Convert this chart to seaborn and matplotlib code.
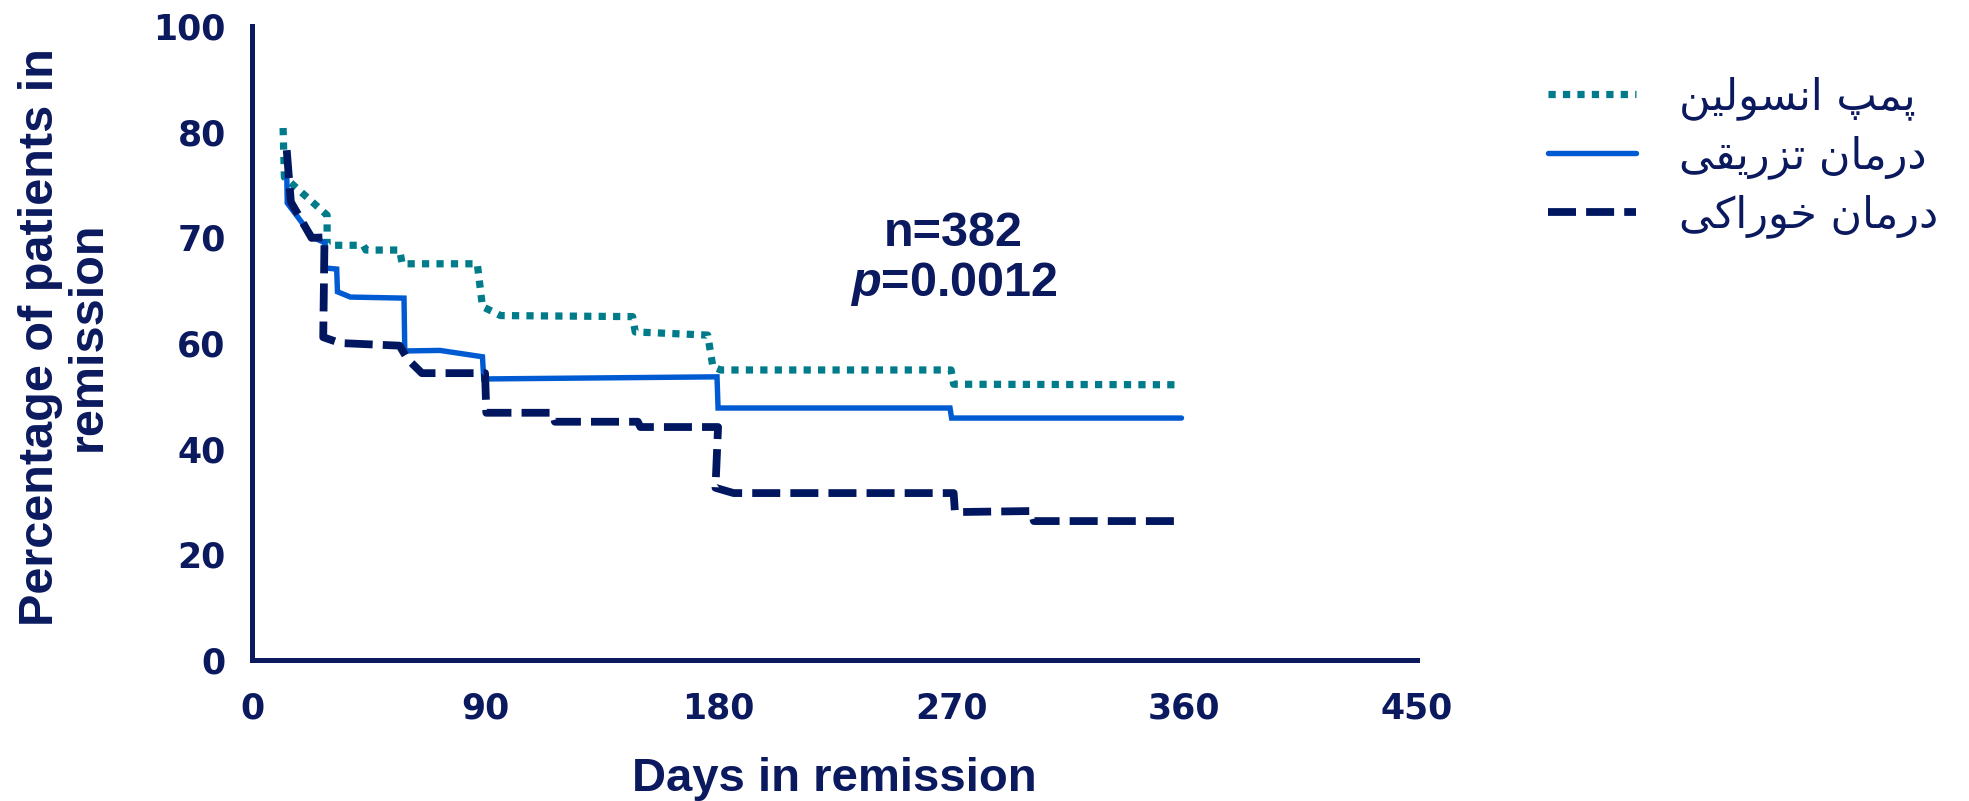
import pandas as pd
import matplotlib
matplotlib.use("Agg")
import matplotlib.pyplot as plt
from matplotlib.lines import Line2D
import seaborn as sns

# survival curves (days, percent on the chart's own evenly spaced scale)
pump_days = [12, 12.5, 29, 29, 43, 44, 57, 58, 87, 89, 96, 147, 148, 176, 178, 181, 270, 271, 359]
pump_vals = [100.7, 91.4, 84.2, 78.5, 78.5, 77.6, 77.6, 75, 75, 66.9, 65.2, 65, 62.1, 61.5, 55.5, 54.9, 54.9, 52.2, 52.1]

inj_days = [13.4, 13.6, 23.6, 28, 28.3, 32.7, 33, 38, 58.7, 59, 72.6, 89, 89.5, 179.6, 180, 269.6, 270.2, 359]
inj_vals = [92, 86.5, 80, 79, 74.2, 74, 69.7, 68.7, 68.5, 58.5, 58.6, 57.4, 53.2, 53.6, 47.7, 47.7, 45.8, 45.8]

oral_days = [13.4, 15, 23, 28, 27.5, 34, 57, 60, 65.6, 90, 90.5, 116, 117, 149, 150, 180, 179, 186, 271, 271.5, 301, 302, 359]
oral_vals = [96.5, 86.7, 79.9, 80, 61.1, 60, 59.5, 57, 54.3, 54.3, 46.8, 46.8, 45.1, 45.1, 44.1, 44.1, 32.6, 31.6, 31.6, 28, 28.2, 26.3, 26.3]

group_names = ["پمپ انسولین", "درمان تزریقی", "درمان خوراکی"]
x_ticks = [0, 90, 180, 270, 360, 450]
y_tick_labels = ["0", "20", "40", "60", "70", "80", "100"]

NAVY = "#0b1a5e"
colors = ["#007b8a", "#005bd3", "#00175f"]

# minimal Persian shaping (matplotlib has no complex text layout)
FORMS = {
    "پ": "\ufb56\ufb57\ufb58\ufb59", "م": "\ufee1\ufee2\ufee3\ufee4",
    "ن": "\ufee5\ufee6\ufee7\ufee8", "س": "\ufeb1\ufeb2\ufeb3\ufeb4",
    "ل": "\ufedd\ufede\ufedf\ufee0", "ی": "\ufbfc\ufbfd\ufbfe\ufbff",
    "ت": "\ufe95\ufe96\ufe97\ufe98", "ق": "\ufed5\ufed6\ufed7\ufed8",
    "خ": "\ufea5\ufea6\ufea7\ufea8", "ک": "\ufb8e\ufb8f\ufb90\ufb91",
    "ا": "\ufe8d\ufe8e\ufe8d\ufe8e", "د": "\ufea9\ufeaa\ufea9\ufeaa",
    "ر": "\ufead\ufeae\ufead\ufeae", "ز": "\ufeaf\ufeb0\ufeaf\ufeb0",
    "و": "\ufeed\ufeee\ufeed\ufeee",
}
RIGHT_ONLY = set("ادرزو")


def shape(text):
    out = []
    for i, ch in enumerate(text):
        if ch not in FORMS:
            out.append(ch)
            continue
        prev = text[i - 1] if i > 0 else " "
        nxt = text[i + 1] if i + 1 < len(text) else " "
        join_prev = prev in FORMS and prev not in RIGHT_ONLY
        join_next = nxt in FORMS and ch not in RIGHT_ONLY
        idx = (3 if join_next else 1) if join_prev else (2 if join_next else 0)
        out.append(FORMS[ch][idx])
    return "".join(reversed(out))


sns.set_style("white")
plt.rcParams["font.family"] = ["Liberation Sans", "DejaVu Sans"]
plt.rcParams["mathtext.fontset"] = "custom"
plt.rcParams["mathtext.it"] = "Liberation Sans:bold:italic"

fig = plt.figure(figsize=(19.69, 8.01), dpi=100)
ax = fig.add_axes([0.128, 0.176, 0.5917, 0.7915])

series = [(pump_days, pump_vals), (inj_days, inj_vals), (oral_days, oral_vals)]
styles = [dict(lw=5.2, dashes=(1, 1)), dict(lw=3.9, dashes=""), dict(lw=5.6, dashes=(3.6, 1.3))]
for (d, v), c, st in zip(series, colors, styles):
    df = pd.DataFrame({"day": d, "pct": v})
    sns.lineplot(x="day", y="pct", data=df, sort=False, estimator=None,
                 color=c, linewidth=st["lw"], ax=ax)
    ln = ax.lines[-1]
    if st["dashes"]:
        ln.set_dashes(st["dashes"])
    ln.set_dash_capstyle("butt")
    ln.set_solid_joinstyle("miter")

ax.set_xlim(0, 450)
ax.set_ylim(0, 120)
ax.set_xticks(x_ticks)
ax.set_yticks(range(0, 121, 20))
ax.set_yticklabels(y_tick_labels)
for lab in ax.get_xticklabels() + ax.get_yticklabels():
    lab.set_fontfamily("DejaVu Sans")
    lab.set_fontweight("bold")
    lab.set_fontsize(25)
    lab.set_color(NAVY)

sns.despine(ax=ax)
for s in ["left", "bottom"]:
    ax.spines[s].set_linewidth(3.6)
    ax.spines[s].set_color(NAVY)
ax.tick_params(axis="y", direction="out", length=13, width=3.6, color=NAVY, pad=6)
ax.tick_params(axis="x", direction="out", length=14, width=3.6, color=NAVY, pad=9)

ax.set_xlabel("Days in remission", fontsize=34, fontweight="bold", color=NAVY)
ax.xaxis.set_label_coords(0.5, -0.153)
ax.set_ylabel("Percentage of patients in\nremission", fontsize=35, fontweight="bold",
              color=NAVY, linespacing=1.1)
ax.yaxis.set_label_coords(-0.121, 0.51)

ax.text(271, 80.7, "n=382", fontsize=35, fontweight="bold", color=NAVY,
        ha="center", va="center")
ax.text(271, 71.1, "$p$=0.0012", fontsize=35, fontweight="bold", color=NAVY,
        ha="center", va="center")

handles = []
for c, st in zip(colors, styles):
    h = Line2D([], [], color=c, linewidth=st["lw"], dash_capstyle="butt")
    if st["dashes"]:
        h.set_dashes(st["dashes"])
    handles.append(h)
leg = ax.legend(handles, [shape(g) for g in group_names], loc="upper left",
                bbox_to_anchor=(1.112, 0.921), frameon=False, handlelength=2.05,
                handletextpad=1.0, labelspacing=0.35, borderpad=0, borderaxespad=0,
                prop={"family": "DejaVu Sans", "size": 31})
for t in leg.get_texts():
    t.set_color(NAVY)

fig.savefig("out.png", dpi=100)
